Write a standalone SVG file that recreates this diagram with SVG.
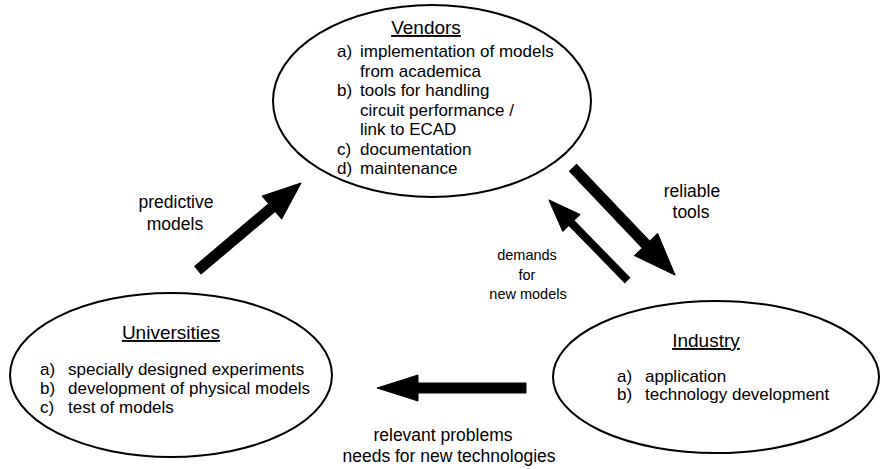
<svg xmlns="http://www.w3.org/2000/svg" width="881" height="469" viewBox="0 0 881 469">
<style>
.ell{fill:none;stroke:#000;stroke-width:2}
.t{font-family:"Liberation Sans",Arial,sans-serif;font-size:17px;fill:#000}
.h{font-family:"Liberation Sans",Arial,sans-serif;font-size:19px;fill:#000;text-anchor:middle;text-decoration:underline}
.lbl{font-family:"Liberation Sans",Arial,sans-serif;font-size:17.5px;fill:#000;text-anchor:middle}
.sm{font-family:"Liberation Sans",Arial,sans-serif;font-size:14.5px;fill:#000;text-anchor:middle}
.arr{fill:#000;stroke:#000;stroke-width:1;stroke-linejoin:round}
</style>
<rect width="881" height="469" fill="#fff"/>
<g id="vendors">
<ellipse class="ell" cx="432" cy="101" rx="159" ry="96"/>
<text class="h" x="426" y="34">Vendors</text>
<text class="t" x="337" y="57">a)</text><text class="t" x="360" y="57">implementation of models</text>
<text class="t" x="360" y="76.5">from academica</text>
<text class="t" x="337" y="96">b)</text><text class="t" x="360" y="96">tools for handling</text>
<text class="t" x="360" y="115.5">circuit performance /</text>
<text class="t" x="360" y="135">link to ECAD</text>
<text class="t" x="337" y="154.5">c)</text><text class="t" x="360" y="154.5">documentation</text>
<text class="t" x="337" y="174">d)</text><text class="t" x="360" y="174">maintenance</text>
</g>
<g id="universities">
<ellipse class="ell" cx="171" cy="375" rx="161" ry="82"/>
<text class="h" x="171" y="339">Universities</text>
<text class="t" x="40" y="375">a)</text><text class="t" x="68" y="375">specially designed experiments</text>
<text class="t" x="40" y="394">b)</text><text class="t" x="68" y="394">development of physical models</text>
<text class="t" x="40" y="413">c)</text><text class="t" x="68" y="413">test of models</text>
</g>
<g id="industry">
<ellipse class="ell" cx="716" cy="377" rx="163" ry="76"/>
<text class="h" x="706" y="347">Industry</text>
<text class="t" x="617" y="382">a)</text><text class="t" x="645" y="382">application</text>
<text class="t" x="617" y="400">b)</text><text class="t" x="645" y="400">technology development</text>
</g>
<g id="connectors">
<polygon class="arr" transform="translate(301,183) rotate(-40.2)" points="0,0 -38,-15 -38,-5 -135,-5 -135,5 -38,5 -38,15"/>
<polygon class="arr" transform="translate(675,275) rotate(46.4)" points="0,0 -42,-16 -42,-5 -148,-5 -148,5 -42,5 -42,16"/>
<polygon class="arr" transform="translate(549,200) rotate(225.7)" points="0,0 -32,-12 -32,-3.5 -112,-3.5 -112,3.5 -32,3.5 -32,12"/>
<polygon class="arr" transform="translate(377,388) rotate(180)" points="0,0 -41,-13 -41,-5 -149,-5 -149,5 -41,5 -41,13"/>
<text class="lbl" x="176" y="208">predictive</text>
<text class="lbl" x="175" y="230">models</text>
<text class="lbl" x="692" y="197">reliable</text>
<text class="lbl" x="691" y="218">tools</text>
<text class="sm" x="527" y="260">demands</text>
<text class="sm" x="527" y="280">for</text>
<text class="sm" x="528" y="299">new models</text>
<text class="lbl" x="443" y="441">relevant problems</text>
<text class="lbl" x="449" y="462">needs for new technologies</text>
</g>
</svg>
